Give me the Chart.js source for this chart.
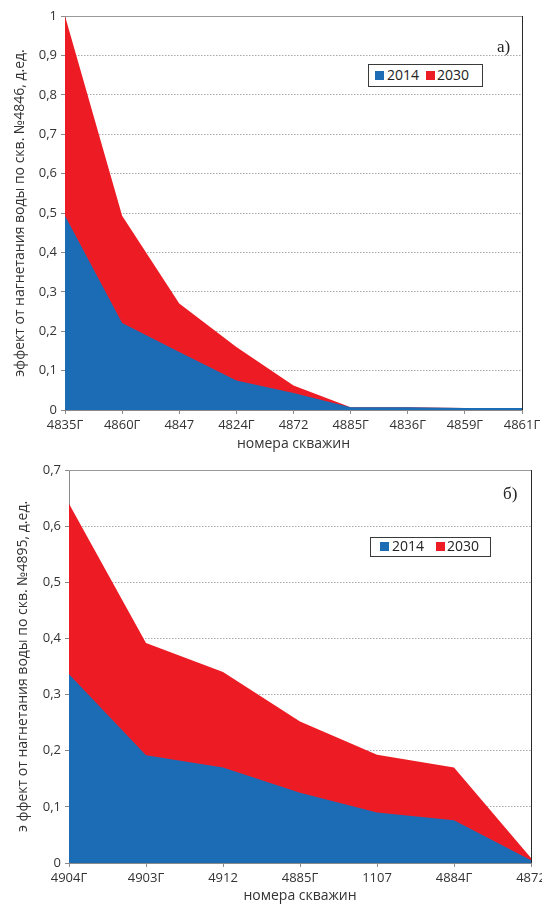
<!DOCTYPE html>
<html lang="ru">
<head>
<meta charset="utf-8">
<title>Эффект от нагнетания воды</title>
<script src="https://cdn.jsdelivr.net/npm/chart.js@4.4.1/dist/chart.umd.min.js"></script>
<style>
  html, body { margin: 0; padding: 0; background: #fff; }
  #page { position: relative; width: 542px; height: 904px; overflow: hidden; }
  canvas { position: absolute; left: 0; }
  .legend { position: absolute; box-sizing: border-box; border: 1px solid #3a3a3a; background: #fff;
            font-family: 'Open Sans', sans-serif; font-size: 14px; line-height: 14px; color: #222; }
  .legend span { position: absolute; white-space: nowrap; }
  .legend .sw { width: 9px; height: 9px; }
  .tag { position: absolute; font-family: 'Liberation Serif', serif; font-size: 17px; line-height: 20px; color: #222; }
</style>
</head>
<body>
<div id="page">
  <canvas id="chartA" width="580" height="455" style="top:0"></canvas>
  <canvas id="chartB" width="580" height="460" style="top:455px"></canvas>
  <div class="tag" style="left:497px; top:37px">а)</div>
  <div class="tag" style="left:503px; top:484px">б)</div>
</div>
<script>
// series labels and colours
const seriesLabels = ['2014', '2030'];
const seriesColors = ['#1b6cb5', '#ed1c24'];

// а) well No.4846
const wellsA = ['4835Г', '4860Г', '4847', '4824Г', '4872', '4885Г', '4836Г', '4859Г', '4861Г'];
const effectA2014 = [0.493, 0.221, 0.147, 0.075, 0.043, 0.007, 0.007, 0.005, 0.005];
const effectA2030 = [1.0, 0.493, 0.270, 0.160, 0.062, 0.007, 0.007, 0.005, 0.005];

// б) well No.4895
const wellsB = ['4904Г', '4903Г', '4912', '4885Г', '1107', '4884Г', '4872'];
const effectB2014 = [0.336, 0.192, 0.170, 0.125, 0.090, 0.076, 0.005];
const effectB2030 = [0.640, 0.392, 0.340, 0.252, 0.193, 0.170, 0.009];

const xTitle = 'номера скважин';
const yTitleA = 'эффект от нагнетания воды по скв. №4846, д.ед.';
const yTitleB = 'э ффект от нагнетания воды по скв. №4895, д.ед.';

Chart.defaults.font.family = "'Open Sans', sans-serif";
Chart.defaults.font.size = 13;
Chart.defaults.color = '#333';

// top edge grey, right edge dark, like the Excel plot frame
const framePlugin = {
  id: 'frame',
  afterDatasetsDraw(chart) {
    const { ctx, chartArea: a } = chart;
    ctx.save();
    ctx.lineWidth = 1;
    ctx.strokeStyle = '#9a9a9a';
    ctx.beginPath();
    ctx.moveTo(a.left, a.top + 0.5);
    ctx.lineTo(a.right, a.top + 0.5);
    ctx.stroke();
    ctx.strokeStyle = '#2a2a2a';
    ctx.beginPath();
    ctx.moveTo(a.right + 0.5, a.top);
    ctx.lineTo(a.right + 0.5, a.bottom);
    ctx.stroke();
    ctx.restore();
  }
};

function fmtTick(v) {
  return String(Number(v.toFixed(1))).replace('.', ',');
}

function makeChart(id, wells, s2014, s2030, cfg) {
  const data = [s2014, s2030];
  return new Chart(document.getElementById(id), {
    type: 'line',
    data: {
      labels: wells,
      datasets: seriesLabels.map((label, i) => ({
        label,
        data: data[i],
        fill: 'origin',
        backgroundColor: seriesColors[i],
        borderColor: seriesColors[i],
        borderWidth: 0,
        pointRadius: 0,
        tension: 0,
      })),
    },
    options: {
      responsive: false,
      animation: false,
      devicePixelRatio: 1,
      layout: { padding: { top: cfg.padTop, right: cfg.padRight, left: 0, bottom: 0 } },
      plugins: { legend: { display: false }, tooltip: { enabled: false } },
      scales: {
        x: {
          afterFit(scale) { scale.height = cfg.xHeight; },
          grid: { drawOnChartArea: false, tickLength: 4, tickColor: '#8a8a8a' },
          border: { color: '#8a8a8a' },
          ticks: { autoSkip: false, maxRotation: 0, minRotation: 0, padding: 3, color: '#333' },
          title: {
            display: true, text: xTitle, color: '#333',
            font: { size: 14, lineHeight: 1.2 }, padding: { top: 0, bottom: cfg.xTitlePad },
          },
        },
        y: {
          min: 0, max: cfg.yMax,
          afterFit(scale) { scale.width = cfg.yWidth; },
          grid: { color: '#a8a8a8', tickLength: 4, tickColor: '#8a8a8a' },
          border: { color: '#8a8a8a', dash: [1.5, 1.5] },
          ticks: { stepSize: 0.1, padding: 4, color: '#333', callback: fmtTick },
          title: {
            display: true, text: cfg.yTitle, color: '#333',
            font: { size: 14, lineHeight: 1.2 }, padding: { top: cfg.yTitlePad, bottom: 0 },
          },
        },
      },
    },
    plugins: [framePlugin],
  });
}

function addLegend(pos) {
  const box = document.createElement('div');
  box.className = 'legend';
  Object.assign(box.style, {
    left: pos.left + 'px', top: pos.top + 'px', width: pos.width + 'px', height: pos.height + 'px',
  });
  seriesLabels.forEach((label, i) => {
    const sw = document.createElement('span');
    sw.className = 'sw';
    sw.style.background = seriesColors[i];
    sw.style.left = pos.sw[i] + 'px';
    sw.style.top = pos.swTop + 'px';
    const tx = document.createElement('span');
    tx.textContent = label;
    tx.style.left = pos.tx[i] + 'px';
    tx.style.top = pos.txTop + 'px';
    box.appendChild(sw);
    box.appendChild(tx);
  });
  document.getElementById('page').appendChild(box);
}

makeChart('chartA', wellsA, effectA2014, effectA2030, {
  yMax: 1, yTitle: yTitleA, padTop: 16, padRight: 58, xHeight: 45, yWidth: 65,
  xTitlePad: 2.6, yTitlePad: 11.6,
});
makeChart('chartB', wellsB, effectB2014, effectB2030, {
  yMax: 0.7, yTitle: yTitleB, padTop: 15, padRight: 49, xHeight: 52, yWidth: 69,
  xTitlePad: 10.6, yTitlePad: 14.6,
});

addLegend({ left: 368, top: 64, width: 115, height: 23, sw: [6, 57], tx: [18, 68], swTop: 6, txTop: 2.6 });
addLegend({ left: 370, top: 537, width: 121, height: 20, sw: [9, 65], tx: [21, 76], swTop: 3.7, txTop: 0.5 });
</script>
</body>
</html>
